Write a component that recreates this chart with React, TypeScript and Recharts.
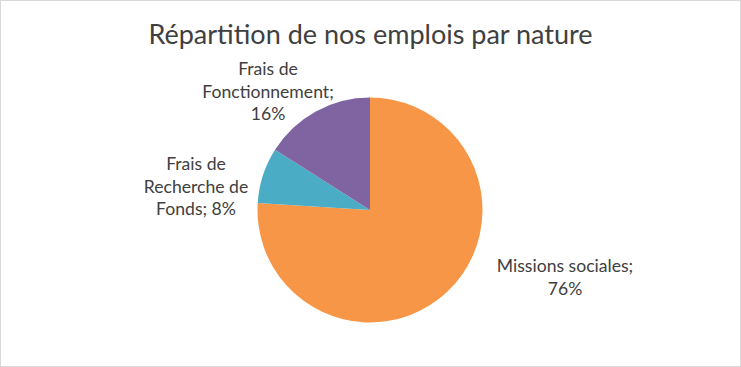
import React from "react";
import { PieChart, Pie, Cell } from "recharts";

const categories = ["Missions sociales", "Frais de Recherche de Fonds", "Frais de Fonctionnement"];
const values = [76, 8, 16];
const colors = ["#F79646", "#4BACC6", "#8064A2"];
const labelLines = [
  ["Missions sociales;", "76%"],
  ["Frais de", "Recherche de", "Fonds; 8%"],
  ["Frais de", "Fonctionnement;", "16%"],
];
const title = "Répartition de nos emplois par nature";

// label anchor offsets relative to pie center (x, first baseline y)
const labelOffsets = [
  [195, 62],
  [-174, -40],
  [-102, -135],
];
const LINE_H = 22.5;
const FONT = "Lato, 'Open Sans', sans-serif";

const data = categories.map((name, i) => ({ name, value: values[i] }));

const renderLabel = (props: any) => {
  const { cx, cy, index } = props;
  const [dx, dy] = labelOffsets[index];
  return (
    <text
      x={cx + dx}
      y={cy + dy}
      textAnchor="middle"
      fill="#404040"
      fontSize={17.6}
      fontFamily={FONT}
    >
      {labelLines[index].map((l, j) => (
        <tspan key={j} x={cx + dx} y={cy + dy + j * LINE_H}>
          {l}
        </tspan>
      ))}
    </text>
  );
};

export default function App() {
  return (
    <>
      <style>{"body{margin:0}"}</style>
      <div
        style={{
          position: "relative",
          width: 741,
          height: 367,
          border: "1px solid #D9D9D9",
          boxSizing: "border-box",
          background: "#fff",
        }}
      >
        <div
          style={{
            position: "absolute",
            left: -1,
            top: 14,
            width: 741,
            textAlign: "center",
            fontFamily: FONT,
            fontSize: 27,
            color: "#404040",
            lineHeight: "38px",
            whiteSpace: "nowrap",
          }}
        >
          {title}
        </div>
        <div style={{ position: "absolute", left: -1, top: -1 }}>
          <PieChart width={741} height={367} margin={{ top: 0, right: 0, bottom: 0, left: 0 }}>
            <Pie
              data={data}
              dataKey="value"
              nameKey="name"
              cx={370}
              cy={210}
              outerRadius={112.5}
              startAngle={90}
              endAngle={-270}
              stroke="none"
              label={renderLabel}
              labelLine={false}
              isAnimationActive={false}
            >
              {data.map((d, i) => (
                <Cell key={d.name} fill={colors[i]} />
              ))}
            </Pie>
          </PieChart>
        </div>
      </div>
    </>
  );
}
